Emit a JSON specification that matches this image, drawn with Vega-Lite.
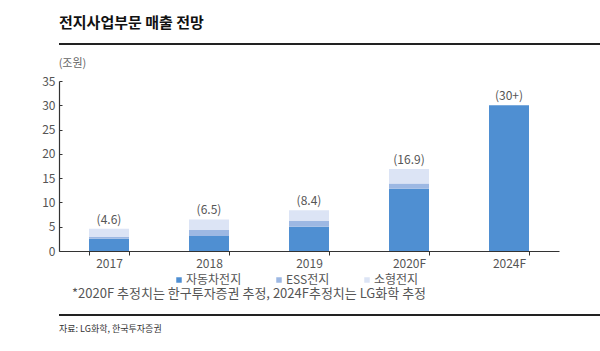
{
  "$schema": "https://vega.github.io/schema/vega-lite/v6.json",
  "padding": {"left": 14, "top": 16, "right": 0, "bottom": 0},
  "background": "white",
  "config": {
    "font": "Noto Sans CJK KR",
    "view": {"stroke": null},
    "axis": {"labelFont": "Noto Sans CJK KR", "titleFont": "Noto Sans CJK KR"},
    "legend": {"labelFont": "Noto Sans CJK KR"},
    "title": {"font": "Noto Sans CJK KR"}
  },
  "resolve": {"legend": {"color": "independent"}, "scale": {"color": "independent"}},
  "datasets": {
    "sales": [
      {"year": "2017", "type": "자동차전지", "value": 2.5},
      {"year": "2017", "type": "ESS전지", "value": 0.4},
      {"year": "2017", "type": "소형전지", "value": 1.7},
      {"year": "2018", "type": "자동차전지", "value": 3.1},
      {"year": "2018", "type": "ESS전지", "value": 1.2},
      {"year": "2018", "type": "소형전지", "value": 2.2},
      {"year": "2019", "type": "자동차전지", "value": 5.0},
      {"year": "2019", "type": "ESS전지", "value": 1.2},
      {"year": "2019", "type": "소형전지", "value": 2.2},
      {"year": "2020F", "type": "자동차전지", "value": 12.8},
      {"year": "2020F", "type": "ESS전지", "value": 1.1},
      {"year": "2020F", "type": "소형전지", "value": 3.0},
      {"year": "2024F", "type": "자동차전지", "value": 30.0}
    ],
    "totals": [
      {"year": "2017", "total": 4.6, "label": "(4.6)"},
      {"year": "2018", "total": 6.5, "label": "(6.5)"},
      {"year": "2019", "total": 8.4, "label": "(8.4)"},
      {"year": "2020F", "total": 16.9, "label": "(16.9)"},
      {"year": "2024F", "total": 30.0, "label": "(30+)"}
    ],
    "unit": [{"a": 0}],
    "source": [{"text": "자료: LG화학, 한국투자증권"}]
  },
  "columns": 1,
  "align": "none",
  "spacing": 2,
  "concat": [
    {
      "width": 576,
      "height": 11,
      "title": {
        "text": "전지사업부문 매출 전망",
        "anchor": "start",
        "fontSize": 15,
        "fontWeight": "bold",
        "color": "#111111",
        "baseline": "alphabetic",
        "offset": 0,
        "dx": 1
      },
      "data": {"name": "unit"},
      "mark": {"type": "rule", "color": "#222222", "strokeWidth": 2},
      "encoding": {
        "x": {"datum": 0, "type": "quantitative", "scale": {"domain": [0, 1]}, "axis": null},
        "x2": {"datum": 1},
        "y": {"datum": 1, "type": "quantitative", "scale": {"domain": [0, 1]}, "axis": null}
      }
    },
    {
      "width": 500,
      "height": 170,
      "layer": [
        {
          "data": {"name": "sales"},
          "transform": [
            {"calculate": "indexof(['자동차전지','ESS전지','소형전지'], datum.type)", "as": "stackOrder"}
          ],
          "mark": {"type": "bar"},
          "encoding": {
            "x": {
              "field": "year",
              "type": "nominal",
              "sort": ["2017", "2018", "2019", "2020F", "2024F"],
              "scale": {"paddingInner": 0.6, "paddingOuter": 0.3},
              "axis": {
                "title": null,
                "labelAngle": 0,
                "labelFontSize": 12,
                "labelColor": "#555555",
                "labelPadding": 3,
                "tickBand": "extent",
                "tickSize": 4,
                "tickColor": "#333333",
                "domainColor": "#333333",
                "domainWidth": 1.2
              }
            },
            "y": {
              "field": "value",
              "type": "quantitative",
              "aggregate": "sum",
              "stack": "zero",
              "scale": {"domain": [0, 35], "nice": false},
              "axis": {
                "title": "(조원)",
                "titleAngle": 0,
                "titleX": 13,
                "titleY": -18,
                "titleAlign": "center",
                "titleBaseline": "middle",
                "titleFontSize": 11,
                "titleFontWeight": "normal",
                "titleColor": "#666666",
                "values": [0, 5, 10, 15, 20, 25, 30, 35],
                "labelOverlap": false,
                "labelFontSize": 12,
                "labelColor": "#555555",
                "labelPadding": 7,
                "tickSize": -3,
                "tickColor": "#333333",
                "domainColor": "#333333",
                "domainWidth": 1.2,
                "grid": false,
                "minExtent": 45
              }
            },
            "order": {"field": "stackOrder", "type": "quantitative"},
            "color": {
              "field": "type",
              "type": "nominal",
              "scale": {
                "domain": ["자동차전지", "ESS전지", "소형전지"],
                "range": ["#4f8fd2", "#9db8e3", "#dce4f5"]
              },
              "legend": {
                "orient": "none",
                "legendX": 114,
                "legendY": 193,
                "direction": "horizontal",
                "title": null,
                "symbolType": "square",
                "symbolSize": 30,
                "labelFontSize": 12,
                "labelColor": "#555555",
                "columnPadding": 31,
                "labelOffset": 1
              }
            }
          }
        },
        {
          "data": {"name": "totals"},
          "mark": {"type": "text", "baseline": "bottom", "dy": -2, "fontSize": 12, "color": "#555555"},
          "encoding": {
            "x": {"field": "year", "type": "nominal", "sort": ["2017", "2018", "2019", "2020F", "2024F"]},
            "y": {
              "field": "total",
              "type": "quantitative",
              "axis": {
                "title": "(조원)",
                "titleAngle": 0,
                "titleX": 13,
                "titleY": -18,
                "titleAlign": "center",
                "titleBaseline": "middle",
                "titleFontSize": 11,
                "titleFontWeight": "normal",
                "titleColor": "#666666",
                "values": [0, 5, 10, 15, 20, 25, 30, 35],
                "labelOverlap": false,
                "labelFontSize": 12,
                "labelColor": "#555555",
                "labelPadding": 7,
                "tickSize": -3,
                "tickColor": "#333333",
                "domainColor": "#333333",
                "domainWidth": 1.2,
                "grid": false,
                "minExtent": 45
              }
            },
            "text": {"field": "label"}
          }
        }
      ]
    },
    {
      "width": 576,
      "height": 14,
      "title": {
        "text": "*2020F 추정치는 한구투자증권 추정, 2024F추정치는 LG화학 추정",
        "anchor": "start",
        "fontSize": 13,
        "fontWeight": "normal",
        "color": "#555555",
        "baseline": "alphabetic",
        "offset": 3,
        "dx": 14
      },
      "layer": [
        {
          "data": {"name": "unit"},
          "mark": {"type": "rule", "color": "#222222", "strokeWidth": 2},
          "encoding": {
            "x": {"datum": 0, "type": "quantitative", "scale": {"domain": [0, 1]}, "axis": null},
            "x2": {"datum": 1},
            "y": {"datum": 1, "type": "quantitative", "scale": {"domain": [0, 1]}, "axis": null}
          }
        },
        {
          "data": {"name": "source"},
          "mark": {"type": "text", "align": "left", "baseline": "middle", "fontSize": 9, "color": "#333333"},
          "encoding": {
            "x": {"datum": 0, "type": "quantitative"},
            "y": {"datum": 0, "type": "quantitative"},
            "text": {"field": "text"}
          }
        }
      ]
    }
  ]
}
